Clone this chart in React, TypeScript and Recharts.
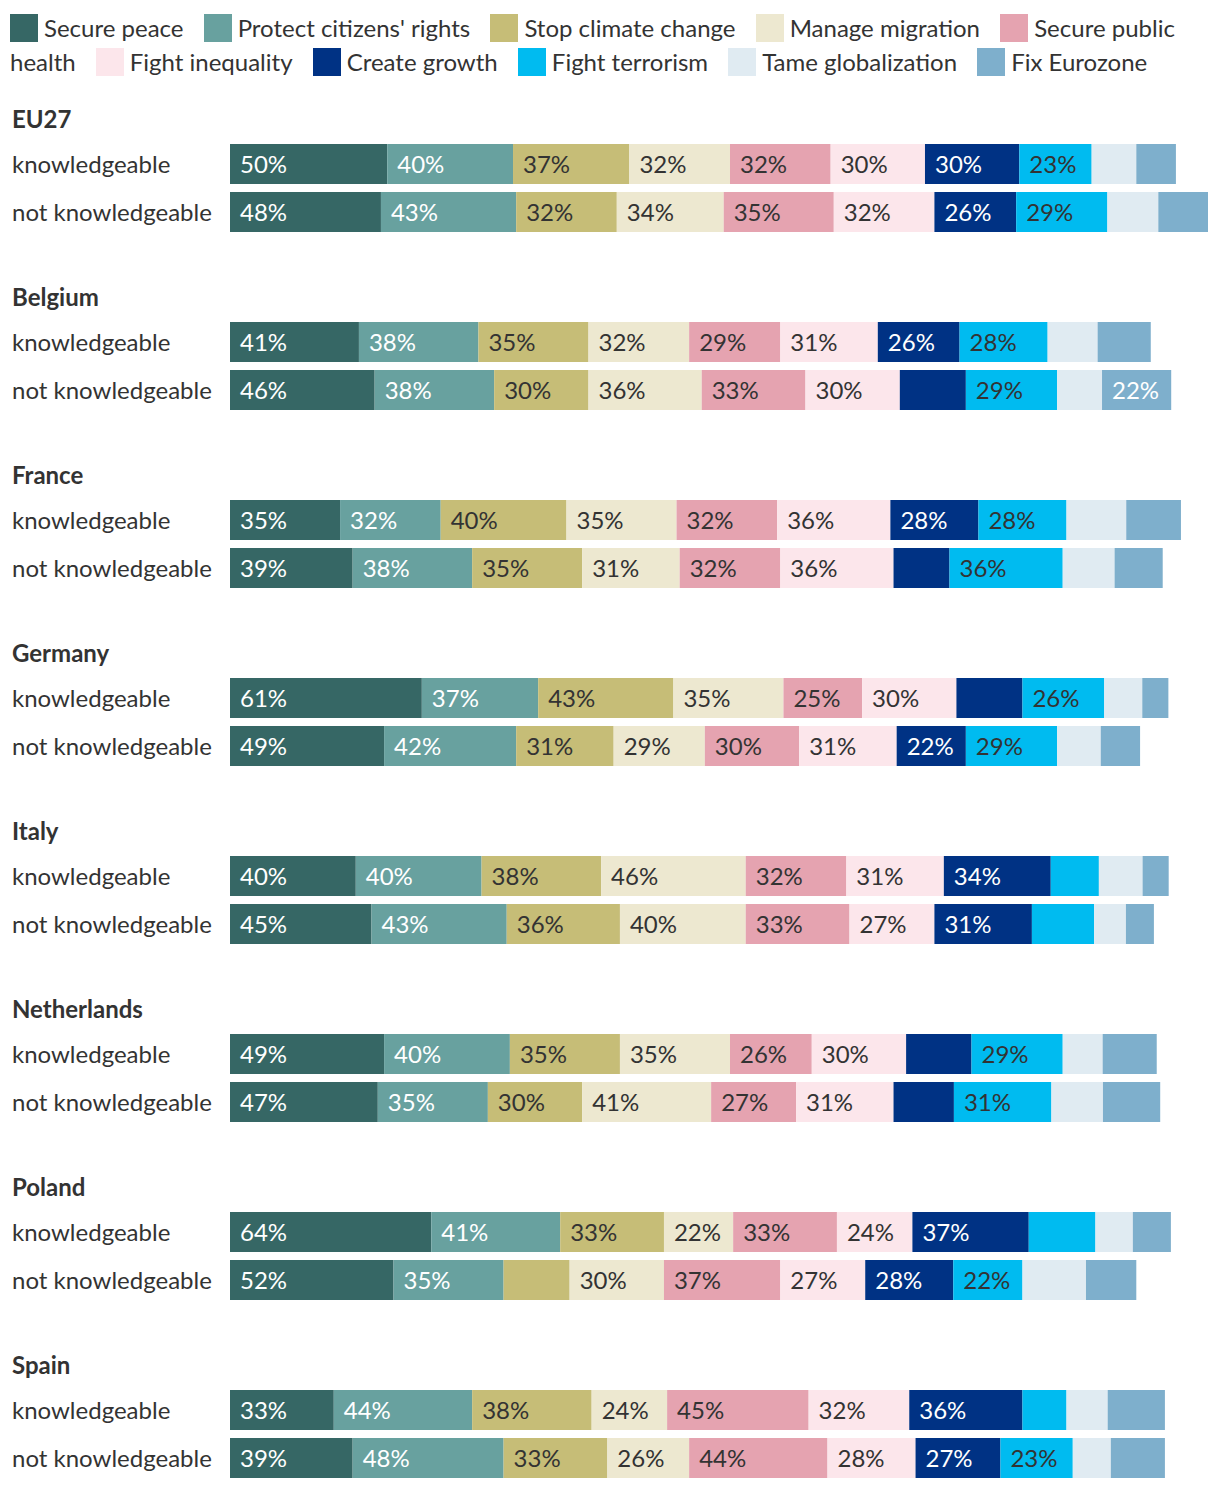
import { BarChart, Bar, XAxis, YAxis, LabelList } from "recharts";

const countries = ["EU27", "Belgium", "France", "Germany", "Italy", "Netherlands", "Poland", "Spain"];
const groups = ["knowledgeable", "not knowledgeable"];

const seriesNames = [
  "Secure peace",
  "Protect citizens' rights",
  "Stop climate change",
  "Manage migration",
  "Secure public health",
  "Fight inequality",
  "Create growth",
  "Fight terrorism",
  "Tame globalization",
  "Fix Eurozone",
];
const seriesColors = ["#366765", "#68a19f", "#c6bd77", "#ede8d0", "#e5a3b0", "#fce6eb", "#003284", "#00bbf0", "#e0ebf2", "#7eafcc"];
const labelColors = ["#fff", "#fff", "#333", "#333", "#333", "#333", "#fff", "#333", "#333", "#fff"];

// per country: [knowledgeable, not knowledgeable]
const securePeace = [50, 48, 41, 46, 35, 39, 61, 49, 40, 45, 49, 47, 64, 52, 33, 39];
const protectRights = [40, 43, 38, 38, 32, 38, 37, 42, 40, 43, 40, 35, 41, 35, 44, 48];
const stopClimate = [37, 32, 35, 30, 40, 35, 43, 31, 38, 36, 35, 30, 33, 21, 38, 33];
const manageMigration = [32, 34, 32, 36, 35, 31, 35, 29, 46, 40, 35, 41, 22, 30, 24, 26];
const publicHealth = [32, 35, 29, 33, 32, 32, 25, 30, 32, 33, 26, 27, 33, 37, 45, 44];
const fightInequality = [30, 32, 31, 30, 36, 36, 30, 31, 31, 27, 30, 31, 24, 27, 32, 28];
const createGrowth = [30, 26, 26, 21, 28, 17.8, 21, 22, 34, 31, 20.8, 19.2, 37, 28, 36, 27];
const fightTerrorism = [23, 29, 28, 29, 28, 36, 26, 29, 15.3, 19.8, 29, 31, 21.2, 22, 14, 23];
const tameGlobalization = [14.2, 16.2, 15.9, 14.3, 19, 16.5, 12.1, 13.9, 13.9, 10.1, 12.7, 16.4, 11.9, 20.2, 13.1, 12.1];
const fixEurozone = [12.6, 15.8, 16.9, 22, 17.4, 15.3, 8.3, 12.5, 8.3, 8.9, 17.2, 18.2, 12.1, 16, 18.2, 17.2];

const seriesValues = [
  securePeace,
  protectRights,
  stopClimate,
  manageMigration,
  publicHealth,
  fightInequality,
  createGrowth,
  fightTerrorism,
  tameGlobalization,
  fixEurozone,
];
const seriesKeys = seriesNames.map((_, i) => `s${i}`);

const maxTotal = Math.max(
  ...securePeace.map((_, r) => seriesValues.reduce((sum, arr) => sum + arr[r], 0))
);

const FONT = "Lato, sans-serif";

const makeLabel = (color: string) => (props: any) => {
  const { x, y, height, value } = props;
  if (value == null || value < 22) return null;
  return (
    <text
      x={x + 10}
      y={y + height / 2}
      dy={-1}
      fill={color}
      fontSize={24}
      fontFamily={FONT}
      dominantBaseline="central"
    >
      {`${Math.round(value)}%`}
    </text>
  );
};

const renderTick = (props: any) => {
  const { y, payload } = props;
  return (
    <text x={2} y={y} dy={-1} fill="#333" fontSize={24} fontFamily={FONT} dominantBaseline="central">
      {payload.value}
    </text>
  );
};

function CountryChart({ index }: { index: number }) {
  const rows = groups.map((g, j) => {
    const row: Record<string, string | number> = { group: g };
    seriesKeys.forEach((k, s) => {
      row[k] = seriesValues[s][index * 2 + j];
    });
    return row;
  });

  return (
    <BarChart
      layout="vertical"
      width={1198}
      height={96}
      data={rows}
      margin={{ top: 0, right: 0, bottom: 0, left: 0 }}
    >
      <XAxis type="number" hide domain={[0, maxTotal]} />
      <YAxis
        type="category"
        dataKey="group"
        width={220}
        axisLine={false}
        tickLine={false}
        interval={0}
        tick={renderTick}
      />
      {seriesKeys.map((k, s) => (
        <Bar key={k} dataKey={k} stackId="a" fill={seriesColors[s]} barSize={40} isAnimationActive={false}>
          <LabelList dataKey={k} content={makeLabel(labelColors[s])} />
        </Bar>
      ))}
    </BarChart>
  );
}

export default function App() {
  return (
    <div style={{ marginLeft: 2, paddingTop: 3, width: 1202, fontFamily: FONT, color: "#333" }}>
      <div style={{ fontSize: 24, lineHeight: "34px" }}>
        {seriesNames.map((name, i) => (
          <span key={name}>
            <span
              style={{
                display: "inline-block",
                width: 28,
                height: 28,
                marginTop: 3,
                marginRight: 6,
                verticalAlign: "top",
                background: seriesColors[i],
              }}
            />
            <span style={{ marginRight: 14 }}>{name}</span>{" "}
          </span>
        ))}
      </div>
      {countries.map((c, i) => (
        <div key={c}>
          <div
            style={{
              fontSize: 24,
              fontWeight: 700,
              lineHeight: "24px",
              height: 24,
              paddingLeft: 2,
              marginTop: i === 0 ? 28 : 49,
              marginBottom: 9,
            }}
          >
            {c}
          </div>
          <CountryChart index={i} />
        </div>
      ))}
    </div>
  );
}
